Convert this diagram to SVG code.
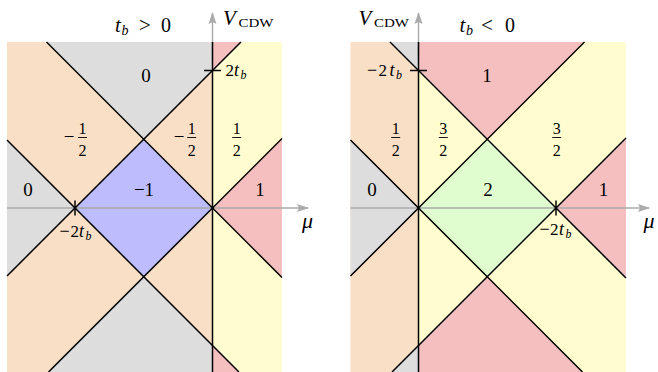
<svg xmlns="http://www.w3.org/2000/svg" width="658" height="372" viewBox="0 0 658 372">
<defs>
<style>
.gr{fill:#dddddd}.pe{fill:#f9dfc6}.pk{fill:#f5bfc0}.ye{fill:#fffdd0}.bl{fill:#bdbdfd}.gn{fill:#e0fdd0}
.ln{stroke:#000;stroke-width:1.5;fill:none}
.ax{stroke:#aaaaaa;stroke-width:1.4;fill:none}
.tk{stroke:#000;stroke-width:1.5}
.bar{stroke:#000;stroke-width:0.9}
text{fill:#000}
.n{font-size:19px;text-anchor:middle}
.f{font-size:16px;text-anchor:middle}
.m{font-size:19px;text-anchor:middle}
.i{font-style:italic}
</style>
<marker id="arr" viewBox="0 0 12 10" refX="11" refY="5" markerWidth="12" markerHeight="10" markerUnits="userSpaceOnUse" orient="auto">
<path d="M0,1 L12,5 L0,9 L2,5 Z" fill="#aaaaaa"/>
</marker>
</defs>

<g id="left-panel">
<g id="left-regions">
<rect class="pe" x="7" y="42" width="205.5" height="330"/>
<rect class="ye" x="212.5" y="42" width="69.5" height="330"/>
<polygon class="gr" points="46.5,42 143.75,139.25 212.5,70.5 212.5,42"/>
<polygon class="pk" points="212.5,42 212.5,70.5 241,42"/>
<polygon class="gr" points="7,140 75,208 7,276"/>
<polygon class="bl" points="75,208 143.75,139.25 212.5,208 143.75,276.75"/>
<polygon class="gr" points="48.5,372 143.75,276.75 212.5,345.5 212.5,372"/>
<polygon class="pk" points="212.5,208 282,138.5 282,277.5"/>
<polygon class="pk" points="212.5,345.5 239,372 212.5,372"/>
</g>
<g id="left-axes">
<line class="ax" x1="7" y1="208" x2="308" y2="208" marker-end="url(#arr)"/>
<line class="ax" x1="212.5" y1="60" x2="212.5" y2="13" marker-end="url(#arr)"/>
</g>
<g id="left-lines">
<line class="ln" x1="48.5" y1="372" x2="282" y2="138.5"/>
<line class="ln" x1="46.5" y1="42" x2="282" y2="277.5"/>
<line class="ln" x1="7" y1="276" x2="241" y2="42"/>
<line class="ln" x1="7" y1="140" x2="239" y2="372"/>
<line class="ln" x1="212.5" y1="42" x2="212.5" y2="372"/>
<line class="tk" x1="75" y1="200.5" x2="75" y2="215.5"/>
<line class="tk" x1="204" y1="70.5" x2="221" y2="70.5"/>
</g>
<g id="left-labels" font-family="'Liberation Serif', 'DejaVu Serif', serif">
<text x="115" y="31.5" font-size="21" class="i">t</text>
<text x="121.5" y="35" font-size="14" class="i">b</text>
<text x="139" y="31.5" font-size="21">&gt;</text>
<text x="161" y="31.5" font-size="20">0</text>
<text x="223" y="25" font-size="21" class="i">V</text>
<text x="238.5" y="26.5" font-size="13" textLength="35" lengthAdjust="spacingAndGlyphs">CDW</text>
<text x="225.5" y="76" font-size="17">2</text>
<text x="234" y="76" font-size="18" class="i">t</text>
<text x="240.5" y="79" font-size="12" class="i">b</text>
<text x="59.5" y="236.5" font-size="18">−</text>
<text x="70.5" y="236.5" font-size="17">2</text>
<text x="79" y="236.5" font-size="18" class="i">t</text>
<text x="85.5" y="239.5" font-size="12" class="i">b</text>
<text x="302" y="228" font-size="22" class="i">μ</text>
<text class="n" x="146" y="81.5">0</text>
<text class="m" x="69" y="142.5">−</text>
<text class="f" x="82.5" y="133.5">1</text>
<line class="bar" x1="78" y1="137.5" x2="87" y2="137.5"/>
<text class="f" x="82.5" y="156">2</text>
<text class="m" x="179" y="142.5">−</text>
<text class="f" x="191.7" y="133.5">1</text>
<line class="bar" x1="187.2" y1="137.5" x2="196.2" y2="137.5"/>
<text class="f" x="191.7" y="156">2</text>
<text class="f" x="236.7" y="133.5">1</text>
<line class="bar" x1="232.2" y1="137.5" x2="241.2" y2="137.5"/>
<text class="f" x="236.7" y="156">2</text>
<text class="n" x="28" y="195.5">0</text>
<text class="n" x="144" y="195.5">−1</text>
<text class="n" x="260" y="195.5">1</text>
</g>
</g>

<g id="right-panel">
<g id="right-regions">
<rect class="pe" x="350.5" y="42" width="68" height="330"/>
<rect class="ye" x="418.5" y="42" width="207.5" height="330"/>
<polygon class="gr" points="390,42 418.5,70.5 418.5,42"/>
<polygon class="gr" points="350.5,140 418.5,208 350.5,276"/>
<polygon class="gr" points="392,372 418.5,345.5 418.5,372"/>
<polygon class="pk" points="418.5,42 418.5,70.5 487.25,139.25 584.5,42"/>
<polygon class="gn" points="418.5,208 487.25,139.25 556,208 487.25,276.75"/>
<polygon class="pk" points="626,138 556,208 626,278"/>
<polygon class="pk" points="418.5,345.5 487.25,276.75 582.5,372 418.5,372"/>
</g>
<g id="right-axes">
<line class="ax" x1="350.5" y1="208" x2="649" y2="208" marker-end="url(#arr)"/>
<line class="ax" x1="418.5" y1="60" x2="418.5" y2="13" marker-end="url(#arr)"/>
</g>
<g id="right-lines">
<line class="ln" x1="350.5" y1="276" x2="584.5" y2="42"/>
<line class="ln" x1="350.5" y1="140" x2="582.5" y2="372"/>
<line class="ln" x1="390" y1="42" x2="626" y2="278"/>
<line class="ln" x1="392" y1="372" x2="626" y2="138"/>
<line class="ln" x1="418.5" y1="42" x2="418.5" y2="372"/>
<line class="tk" x1="556" y1="200.5" x2="556" y2="215.5"/>
<line class="tk" x1="410" y1="70.5" x2="427" y2="70.5"/>
</g>
<g id="right-labels" font-family="'Liberation Serif', 'DejaVu Serif', serif">
<text x="459.5" y="31.5" font-size="21" class="i">t</text>
<text x="466" y="35" font-size="14" class="i">b</text>
<text x="481" y="31.5" font-size="21">&lt;</text>
<text x="505" y="31.5" font-size="20">0</text>
<text x="358.5" y="25" font-size="21" class="i">V</text>
<text x="374" y="26.5" font-size="13" textLength="35" lengthAdjust="spacingAndGlyphs">CDW</text>
<text x="367" y="76" font-size="18">−</text>
<text x="378.5" y="76" font-size="17">2</text>
<text x="389.5" y="76" font-size="18" class="i">t</text>
<text x="396" y="79" font-size="12" class="i">b</text>
<text x="539.5" y="235" font-size="18">−</text>
<text x="550" y="235" font-size="17">2</text>
<text x="559" y="235" font-size="18" class="i">t</text>
<text x="565.5" y="238" font-size="12" class="i">b</text>
<text x="643.5" y="228" font-size="22" class="i">μ</text>
<text class="n" x="487" y="81.5">1</text>
<text class="f" x="395.7" y="133.5">1</text>
<line class="bar" x1="391.2" y1="137.5" x2="400.2" y2="137.5"/>
<text class="f" x="395.7" y="156">2</text>
<text class="f" x="443.3" y="133.5">3</text>
<line class="bar" x1="438.8" y1="137.5" x2="447.8" y2="137.5"/>
<text class="f" x="443.3" y="156">2</text>
<text class="f" x="556.7" y="133.5">3</text>
<line class="bar" x1="552.2" y1="137.5" x2="561.2" y2="137.5"/>
<text class="f" x="556.7" y="156">2</text>
<text class="n" x="372" y="195.5">0</text>
<text class="n" x="488" y="195.5">2</text>
<text class="n" x="603.5" y="195.5">1</text>
</g>
</g>
</svg>
